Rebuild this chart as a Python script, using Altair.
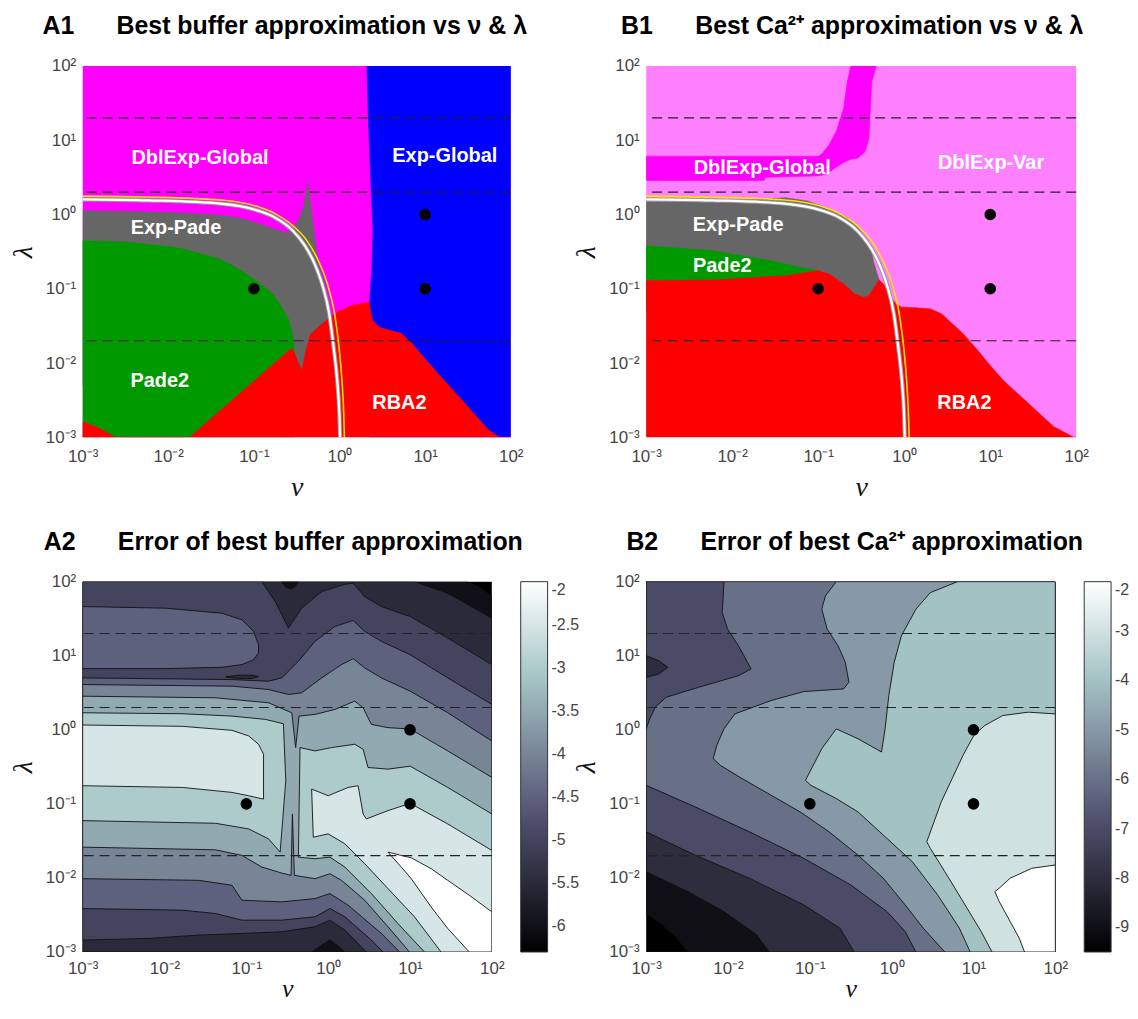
import altair as alt
import pandas as pd

# ---------------------------------------------------------------------------
# Values.  Polygon vertices are (log10 nu, log10 lambda).
# ---------------------------------------------------------------------------
TICK_VALUES = [1e-3, 1e-2, 1e-1, 1, 10, 100]
TICK_LABELS = ["10⁻³", "10⁻²", "10⁻¹", "10⁰", "10¹", "10²"]
DASH_LAMBDA = [20, 2, 0.02]
DOT_NU = [0.1, 10, 10]
DOT_LAMBDA = [0.1, 0.1, 1]

# ---- A1: best buffer approximation (region map) ----
A1_FULL = [(-3, -3), (2, -3), (2, 2), (-3, 2)]
A1_BLUE = [(0.32, 2), (2, 2), (2, -3), (0.35, -3), (0.35, -1.2), (0.38, -0.7),
           (0.39, -0.2), (0.36, 0.6), (0.34, 1.2)]
A1_GRAY = [(-3, 0.05), (-2.5, 0.04), (-2.0, 0.03), (-1.5, 0.0), (-1.2, -0.04),
           (-1.0, -0.1), (-0.85, -0.16), (-0.7, -0.22), (-0.6, -0.25), (-0.54, -0.2),
           (-0.47, -0.05), (-0.42, 0.1), (-0.39, 0.3), (-0.37, 0.43), (-0.35, 0.25),
           (-0.33, 0.05), (-0.3, -0.2), (-0.27, -0.5), (-0.24, -0.7), (-0.18, -0.9),
           (-0.13, -1.15), (-0.1, -1.4), (-0.08, -1.5), (-0.45, -2.3), (-3, -2.3)]
A1_GREEN = [(-3, -0.355), (-2.5, -0.37), (-2.0, -0.43), (-1.8, -0.47), (-1.4, -0.6),
            (-1.2, -0.72), (-1.0, -0.87), (-0.8, -1.05), (-0.7, -1.2), (-0.6, -1.4),
            (-0.55, -1.6), (-0.53, -1.8), (-0.53, -3), (-3, -3)]
A1_RED = [(-3, -2.79), (-2.8, -2.88), (-2.62, -3.0), (-1.75, -3.0), (-0.56, -1.8),
          (-0.53, -1.85), (-0.5, -1.95), (-0.44, -2.1), (-0.4, -1.87), (-0.35, -1.65),
          (-0.33, -1.6), (-0.2, -1.47), (-0.03, -1.32), (0.13, -1.23), (0.345, -1.18),
          (0.37, -1.35), (0.39, -1.43), (0.47, -1.52), (0.72, -1.6), (0.85, -1.74),
          (0.98, -1.92), (1.15, -2.14), (1.36, -2.41), (1.57, -2.68), (1.74, -2.9),
          (1.87, -3.0), (2, -3), (-3, -3)]
A1_LABELS = ["DblExp-Global", "Exp-Global", "Exp-Pade", "Pade2", "RBA2"]
A1_LABEL_U = [-1.63, 1.23, -1.91, -2.10, 0.70]
A1_LABEL_V = [0.76, 0.79, -0.18, -2.24, -2.54]

# ---- B1: best Ca2+ approximation (region map) ----
B1_FULL = [(-3, -3), (2, -3), (2, 2), (-3, 2)]
B1_MAGENTA = [(-3, 0.785), (-1.63, 0.785), (-1.0, 0.785), (-0.957, 0.816), (-0.873, 0.941),
              (-0.789, 1.12), (-0.704, 1.43), (-0.662, 1.79), (-0.62, 2.0), (-0.325, 2.0),
              (-0.376, 1.79), (-0.397, 1.34), (-0.41, 1.03), (-0.452, 0.85), (-0.536, 0.762),
              (-0.62, 0.745), (-0.704, 0.70), (-0.789, 0.64), (-0.873, 0.57), (-0.957, 0.53),
              (-1.0, 0.52), (-1.61, 0.50), (-1.63, 0.458), (-3, 0.458)]
B1_GRAY = [(-3, 0.172), (-2.221, 0.172), (-1.378, 0.226), (-1.125, 0.181), (-0.957, 0.114),
           (-0.789, 0.025), (-0.662, -0.042), (-0.536, -0.176), (-0.452, -0.31),
           (-0.388, -0.444), (-0.359, -0.623), (-0.325, -0.757), (-0.291, -0.882),
           (-0.275, -0.94), (-0.28, -1.3), (-3, -1.3)]
B1_GREEN = [(-3, -0.422), (-2.221, -0.489), (-1.547, -0.623), (-1.21, -0.712),
            (-0.98, -0.757), (-0.98, -1.3), (-3, -1.3)]
B1_RED = [(-3, -0.891), (-2.221, -0.882), (-1.378, -0.824), (-1.0, -0.757), (-0.873, -0.802),
          (-0.789, -0.869), (-0.704, -0.936), (-0.578, -1.07), (-0.473, -1.114),
          (-0.409, -1.092), (-0.346, -0.98), (-0.291, -0.882), (-0.241, -0.936),
          (-0.157, -1.114), (-0.094, -1.204), (-0.030, -1.248), (0.138, -1.257),
          (0.307, -1.271), (0.433, -1.338), (0.559, -1.472), (0.686, -1.606),
          (0.854, -1.829), (0.981, -2.008), (1.149, -2.231), (1.36, -2.455),
          (1.57, -2.678), (1.739, -2.857), (1.971, -3.0), (2, -3), (-3, -3)]
B1_LABELS = ["DblExp-Global", "DblExp-Var", "Exp-Pade", "Pade2", "RBA2"]
B1_LABEL_U = [-1.65, 1.01, -1.93, -2.115, 0.70]
B1_LABEL_V = [0.62, 0.69, -0.145, -0.70, -2.535]

# ---- curves drawn over both top maps ----
CURVE_WHITE = [(-3, 0.204), (-2.23, 0.19), (-1.387, 0.146), (-0.965, 0.056), (-0.753, -0.042),
               (-0.542, -0.221), (-0.416, -0.4), (-0.289, -0.668), (-0.204, -0.936),
               (-0.12, -1.338), (-0.069, -1.785), (-0.027, -2.231), (-0.002, -2.678),
               (0.007, -3.0)]
CURVE_YELLOW = [(-3, 0.248), (-2.23, 0.235), (-1.387, 0.195), (-0.965, 0.11), (-0.753, 0.012),
                (-0.542, -0.154), (-0.394, -0.332), (-0.247, -0.623), (-0.141, -0.936),
                (-0.057, -1.338), (-0.006, -1.785), (0.028, -2.231), (0.049, -2.678),
                (0.057, -3.0)]

# ---- A2: error of best buffer approximation (filled contours, log10 error) ----
A2_CRANGE = [-6.3, -2.0]
A2_TICKS = [-2, -2.5, -3, -3.5, -4, -4.5, -5, -5.5, -6]
A2_FULL = [(-3, -3), (2, -3), (2, 2), (-3, 2)]
A2_S60 = [(-3, -3), (2, -3), (2, 1.80), (1.866, 1.91), (1.704, 2), (-3, 2)]
A2_S55 = [(-3, -3), (2, -3), (2, 1.507), (1.461, 1.843), (1.055, 2), (-3, 2)]
A2_HOLE_BOTTOM = [(-0.202, -3), (-0.080, -2.906), (0.021, -2.839), (0.122, -2.919), (0.204, -3)]
A2_HOLE_TOP = [(-0.567, 2), (-0.526, 1.933), (-0.465, 1.901), (-0.405, 1.933), (-0.364, 2)]
A2_S50 = [(-3, 2), (-0.810, 2.0), (-0.648, 1.731), (-0.486, 1.373), (-0.324, 1.642),
          (-0.080, 1.866), (0.204, 1.964), (0.305, 1.978), (0.447, 1.798), (0.650, 1.664),
          (1.002, 1.530), (1.461, 1.238), (2.0, 0.880), (2, -3), (0.467, -3),
          (0.366, -2.884), (0.204, -2.704), (0.021, -2.570), (-0.161, -2.659),
          (-0.567, -2.727), (-1.054, -2.749), (-1.581, -2.772), (-2.189, -2.816), (-3, -2.839)]
A2_SLIVER = [(-1.256, 0.714), (-1.094, 0.737), (-0.932, 0.737), (-0.851, 0.719),
             (-0.932, 0.692), (-1.094, 0.692)]
A2_S45 = [(-3, 0.701), (-1.175, 0.678), (-0.729, 0.656), (-0.567, 0.701), (-0.364, 0.925),
          (-0.161, 1.194), (0.082, 1.395), (0.305, 1.476), (0.447, 1.328), (0.650, 1.194),
          (1.002, 1.014), (1.461, 0.701), (2.0, 0.342), (2, -3), (0.670, -3.0),
          (0.528, -2.839), (0.204, -2.525), (0.021, -2.413), (-0.161, -2.525),
          (-0.567, -2.570), (-1.054, -2.570), (-1.378, -2.480), (-1.783, -2.435), (-3, -2.413)]
A2_TONGUE = [(-3, 1.664), (-1.986, 1.642), (-1.297, 1.574), (-1.054, 1.485), (-0.912, 1.328),
             (-0.851, 1.149), (-0.851, 1.037), (-0.912, 0.947), (-1.054, 0.880),
             (-1.297, 0.844), (-1.986, 0.826), (-3, 0.826)]
A2_S40 = [(-3, 0.611), (-1.175, 0.589), (-0.729, 0.544), (-0.486, 0.477), (-0.324, 0.499),
          (-0.080, 0.701), (0.163, 0.880), (0.305, 0.961), (0.447, 0.835), (0.650, 0.701),
          (1.002, 0.522), (1.461, 0.230), (2.0, -0.151), (2, -3), (0.873, -3.0),
          (0.650, -2.749), (0.244, -2.368), (0.021, -2.211), (-0.161, -2.279),
          (-0.567, -2.323), (-1.054, -2.301), (-1.175, -2.099), (-1.581, -2.032), (-3, -2.010)]
A2_S35 = [(-3, 0.454), (-1.378, 0.432), (-0.729, 0.365), (-0.445, 0.230), (-0.397, -0.240),
          (-0.356, 0.185), (-0.161, 0.208), (0.082, 0.275), (0.325, 0.387), (0.427, 0.297),
          (0.528, 0.073), (0.731, 0.029), (1.002, 0.011), (1.461, -0.285), (2.0, -0.643),
          (2, -3), (0.994, -3.0), (0.731, -2.659), (0.447, -2.301), (0.163, -2.032),
          (0.021, -1.943), (-0.161, -2.010), (-0.413, -1.965), (-0.437, -1.136),
          (-0.453, -1.965), (-0.567, -1.934), (-0.810, -1.853), (-1.054, -1.696),
          (-1.378, -1.620), (-3, -1.584)]
A2_S30_LEFT = [(-3, 0.230), (-1.783, 0.217), (-1.175, 0.185), (-0.770, 0.141), (-0.547, 0.082),
               (-0.518, -0.688), (-0.587, -1.651), (-0.729, -1.472), (-0.972, -1.338),
               (-1.378, -1.262), (-3, -1.226)]
A2_S30_RIGHT = [(-0.344, -0.240), (-0.161, -0.285), (0.041, -0.240), (0.325, -0.195),
                (0.427, -0.263), (0.487, -0.509), (0.731, -0.531), (1.002, -0.491),
                (1.461, -0.778), (2.0, -1.136), (2, -3), (1.177, -3.0), (0.852, -2.615),
                (0.528, -2.211), (0.204, -1.853), (0.021, -1.719), (-0.161, -1.741),
                (-0.364, -1.719)]
A2_S25_LEFT = [(-3, 0.065), (-1.783, 0.047), (-1.175, -0.007), (-0.972, -0.083),
               (-0.851, -0.195), (-0.790, -0.330), (-0.790, -0.935), (-0.851, -0.921),
               (-0.972, -0.890), (-1.175, -0.845), (-1.783, -0.778), (-3, -0.755)]
A2_S25_RIGHT = [(-0.202, -0.800), (0.0, -0.890), (0.244, -0.778), (0.366, -0.755),
                (0.427, -1.136), (0.467, -1.203), (0.731, -1.091), (1.002, -0.993),
                (1.461, -1.271), (2.0, -1.629), (2, -3), (1.380, -3.0), (1.055, -2.525),
                (0.731, -2.144), (0.447, -1.808), (0.204, -1.539), (0.0, -1.405),
                (-0.182, -1.450)]
A2_S20 = [(0.731, -1.651), (0.893, -1.696), (1.015, -1.728), (1.258, -1.875), (1.461, -2.032),
          (1.724, -2.234), (2, -2.458), (2, -3), (1.724, -3), (1.461, -2.682),
          (1.258, -2.391), (1.015, -2.010), (0.893, -1.853)]

# ---- B2: error of best Ca2+ approximation (filled contours, log10 error) ----
B2_CRANGE = [-9.5, -2.0]
B2_TICKS = [-2, -3, -4, -5, -6, -7, -8, -9]
B2_FULL = [(-3, -3), (2, -3), (2, 2), (-3, 2)]
B2_S90 = [(-3, 2), (2, 2), (2, -3), (-2.491, -3), (-2.624, -2.812), (-2.801, -2.632), (-3, -2.475)]
B2_S80 = [(-3, 2), (2, 2), (2, -3), (-1.496, -3), (-1.650, -2.767), (-2.049, -2.453),
          (-2.491, -2.184), (-3, -1.915)]
B2_S70 = [(-3, 2), (2, 2), (2, -3), (-0.456, -3), (-0.633, -2.677), (-1.075, -2.363),
          (-1.739, -2.004), (-2.403, -1.691), (-3, -1.377)]
B2_S60 = [(-3, 2), (2, 2), (2, -3), (0.296, -3), (0.164, -2.722), (-0.058, -2.453),
          (-0.5, -2.094), (-1.075, -1.735), (-1.739, -1.377), (-2.403, -1.040), (-3, -0.749)]
B2_HOLE_TOPLEFT = [(-3, 2), (-2.049, 2), (-2.058, 1.807), (-2.071, 1.583), (-2.004, 1.359),
                   (-1.872, 1.135), (-1.717, 0.821), (-1.872, 0.731), (-2.358, 0.574),
                   (-2.757, 0.439), (-2.889, 0.305), (-2.956, 0.148), (-3, 0.013)]
B2_NOTCH = [(-3, 1.0), (-2.845, 0.933), (-2.735, 0.843), (-2.845, 0.753), (-3, 0.709)]
B2_S50 = [(-0.677, 2), (2, 2), (2, -3), (0.650, -3), (0.385, -2.677), (0.164, -2.363),
          (-0.102, -2.004), (-0.412, -1.691), (-0.765, -1.377), (-1.119, -1.108),
          (-1.473, -0.883), (-1.827, -0.659), (-2.093, -0.480), (-2.181, -0.390),
          (-2.137, -0.211), (-2.049, 0.013), (-1.916, 0.215), (-1.473, 0.395),
          (-1.075, 0.516), (-0.588, 0.552), (-0.522, 0.641), (-0.566, 0.910),
          (-0.655, 1.135), (-0.788, 1.359), (-0.854, 1.628), (-0.810, 1.807)]
B2_S40 = [(0.805, 2), (2, 2), (2, -3), (0.960, -3), (0.827, -2.677), (0.562, -2.229),
          (0.252, -1.780), (-0.058, -1.466), (-0.412, -1.108), (-0.677, -0.928),
          (-0.987, -0.749), (-1.053, -0.682), (-0.854, -0.256), (-0.677, 0.013),
          (-0.412, -0.121), (-0.124, -0.300), (-0.080, 0.013), (-0.035, 0.462),
          (0.031, 0.910), (0.119, 1.269), (0.296, 1.628), (0.473, 1.852)]
B2_S30 = [(2, 0.215), (1.668, 0.238), (1.358, 0.193), (1.137, 0.058), (1.004, -0.076),
          (0.872, -0.345), (0.739, -0.659), (0.606, -0.973), (0.518, -1.242),
          (0.429, -1.511), (0.473, -1.601), (0.650, -1.915), (0.872, -2.318),
          (1.093, -2.722), (1.226, -3), (2, -3)]
B2_S20 = [(2, -1.825), (1.712, -1.870), (1.447, -2.004), (1.314, -2.139), (1.261, -2.184),
          (1.314, -2.318), (1.447, -2.587), (1.558, -2.812), (1.624, -3), (2, -3)]

# ---------------------------------------------------------------------------
# Styling
# ---------------------------------------------------------------------------
FONT = "Liberation Sans"
SERIF = "Liberation Serif"
COL_MAGENTA, COL_BLUE, COL_RED = "#ff00ff", "#0000ff", "#ff0000"
COL_GREEN, COL_GRAY, COL_PINK = "#009900", "#666666", "#ff80ff"
BONE_T = [0, 0.375, 0.75, 1]
BONE_HEX = ["#000000", "#545474", "#a7c7c7", "#ffffff"]

LABEL_EXPR = "[" + ",".join("'" + s + "'" for s in TICK_LABELS) + "][round(log(datum.value)/LN10)+3]"

XSCALE = alt.Scale(type="log", domain=[1e-3, 1e2], nice=False)
YSCALE = alt.Scale(type="log", domain=[1e-3, 1e2], nice=False)


def x_axis(label_pad, title_pad, title_size):
    return alt.Axis(values=TICK_VALUES, labelExpr=LABEL_EXPR, title="ν", titleFont=SERIF,
                    titleFontStyle="italic", titleFontWeight="normal", titleFontSize=title_size,
                    titleColor="#111", labelFont=FONT, labelFontSize=17, labelColor="#454545",
                    ticks=False, domain=False, grid=False, labelPadding=label_pad,
                    titlePadding=title_pad, labelFlush=False, labelOverlap=False)


AX_Y = alt.Axis(values=TICK_VALUES, labelExpr=LABEL_EXPR, title="λ", titleFont=SERIF,
                titleFontStyle="italic", titleFontWeight="normal", titleFontSize=28,
                titleColor="#111", labelFont=FONT, labelFontSize=17, labelColor="#454545",
                ticks=False, domain=False, grid=False, labelPadding=7, titlePadding=8,
                labelFlush=False, labelOverlap=False)
X_TOP = alt.X("nu:Q", scale=XSCALE, axis=x_axis(11, 9, 28))
X_BOT = alt.X("nu:Q", scale=XSCALE, axis=x_axis(9, -1, 26))
Y = alt.Y("lam:Q", scale=YSCALE, axis=AX_Y)


def poly_frame(pts, val=0.0):
    return pd.DataFrame({
        "nu": [10 ** u for u, _ in pts],
        "lam": [10 ** v for _, v in pts],
        "k": list(range(len(pts))),
        "val": [val] * len(pts),
    })


def region_layer(pts, color, X):
    return alt.Chart(poly_frame(pts)).mark_line(
        interpolate="linear-closed", fill=color, stroke=color, strokeWidth=0.6, clip=True
    ).encode(x=X, y=Y, order="k:Q")


def bone_scale(crange):
    lo, hi = crange
    return alt.Scale(domain=[lo + t * (hi - lo) for t in BONE_T], range=BONE_HEX,
                     interpolate="rgb", clamp=True)


def contour_layer(pts, val, scale, legend, X):
    return alt.Chart(poly_frame(pts, val)).mark_line(
        interpolate="linear-closed", stroke="#111111", strokeWidth=0.9, clip=True
    ).encode(x=X, y=Y, order="k:Q", fill=alt.Fill("val:Q", scale=scale, legend=legend))


def curve_layer(pts, color, width, X):
    return alt.Chart(poly_frame(pts)).mark_line(
        color=color, strokeWidth=width, interpolate="monotone", clip=True
    ).encode(x=X, y=Y, order="k:Q")


def overlay_layers(X):
    dash = alt.Chart(pd.DataFrame({"lam": DASH_LAMBDA})).mark_rule(
        color="#222222", strokeDash=[10, 6], strokeWidth=1.1
    ).encode(y=Y)
    dots = alt.Chart(pd.DataFrame({"nu": DOT_NU, "lam": DOT_LAMBDA})).mark_circle(
        size=135, color="black", opacity=1
    ).encode(x=X, y=Y)
    return dash, dots


def label_layer(texts, us, vs, X):
    df = pd.DataFrame({"t": texts, "nu": [10 ** u for u in us], "lam": [10 ** v for v in vs]})
    return alt.Chart(df).mark_text(font=FONT, fontSize=20, fontWeight="bold", color="white").encode(
        x=X, y=Y, text="t:N")


def title(text, dx):
    return alt.TitleParams(text=text, font=FONT, fontSize=25, fontWeight="bold", color="black",
                           anchor="middle", frame="group", dx=dx, offset=18)


def legend(values):
    return alt.Legend(title=None, orient="right", offset=29, direction="vertical",
                      gradientLength=372, gradientThickness=27, values=values,
                      labelFont=FONT, labelFontSize=16, labelColor="#454545", labelOffset=4,
                      gradientStrokeColor="#333333", gradientStrokeWidth=1,
                      labelExpr="replace(format(datum.value, '~g'), '\u2212', '-')")


GAP = "\u2003\u2002\u2009"

# ---------------------------------------------------------------------------
# Panels
# ---------------------------------------------------------------------------
dash_t, dots_t = overlay_layers(X_TOP)
dash_b, dots_b = overlay_layers(X_BOT)

a1 = alt.layer(
    region_layer(A1_FULL, COL_MAGENTA, X_TOP),
    region_layer(A1_BLUE, COL_BLUE, X_TOP),
    region_layer(A1_GRAY, COL_GRAY, X_TOP),
    region_layer(A1_GREEN, COL_GREEN, X_TOP),
    region_layer(A1_RED, COL_RED, X_TOP),
    curve_layer(CURVE_WHITE, "#9a9a9a", 4.2, X_TOP),
    curve_layer(CURVE_WHITE, "white", 2.2, X_TOP),
    curve_layer(CURVE_YELLOW, "#ffe100", 1.6, X_TOP),
    dash_t, dots_t,
    label_layer(A1_LABELS, A1_LABEL_U, A1_LABEL_V, X_TOP),
).properties(width=430, height=373,
             title=title("A1" + GAP + "Best buffer approximation vs ν & λ", -12))

b1 = alt.layer(
    region_layer(B1_FULL, COL_PINK, X_TOP),
    region_layer(B1_MAGENTA, COL_MAGENTA, X_TOP),
    region_layer(B1_GRAY, COL_GRAY, X_TOP),
    region_layer(B1_GREEN, COL_GREEN, X_TOP),
    region_layer(B1_RED, COL_RED, X_TOP),
    curve_layer(CURVE_WHITE, "#9a9a9a", 4.2, X_TOP),
    curve_layer(CURVE_WHITE, "white", 2.2, X_TOP),
    curve_layer(CURVE_YELLOW, "#ffe100", 1.6, X_TOP),
    dash_t, dots_t,
    label_layer(B1_LABELS, B1_LABEL_U, B1_LABEL_V, X_TOP),
).properties(width=432, height=373,
             title=title("B1" + GAP + "Best Ca²⁺ approximation vs ν & λ", -9))

sa = bone_scale(A2_CRANGE)
la = legend(A2_TICKS)
a2_polys = [
    (A2_FULL, A2_CRANGE[0]), (A2_S60, -6), (A2_S55, -5.5), (A2_HOLE_BOTTOM, -6),
    (A2_HOLE_TOP, -6), (A2_S50, -5), (A2_SLIVER, -5.5), (A2_S45, -4.5), (A2_TONGUE, -4.5),
    (A2_S40, -4), (A2_S35, -3.5), (A2_S30_LEFT, -3), (A2_S30_RIGHT, -3),
    (A2_S25_LEFT, -2.5), (A2_S25_RIGHT, -2.5), (A2_S20, -2),
]
a2 = alt.layer(
    *[contour_layer(p, v, sa, la, X_BOT) for p, v in a2_polys], dash_b, dots_b
).properties(width=411, height=372,
             title=title("A2" + GAP + "Error of best buffer approximation", -4))

sb = bone_scale(B2_CRANGE)
lb = legend(B2_TICKS)
b2_polys = [
    (B2_FULL, B2_CRANGE[0]), (B2_S90, -9), (B2_S80, -8), (B2_S70, -7), (B2_S60, -6),
    (B2_HOLE_TOPLEFT, -7), (B2_NOTCH, -8), (B2_S50, -5), (B2_S40, -4), (B2_S30, -3),
    (B2_S20, -2),
]
b2 = alt.layer(
    *[contour_layer(p, v, sb, lb, X_BOT) for p, v in b2_polys], dash_b, dots_b
).properties(width=411, height=372,
             title=title("B2" + GAP + "Error of best Ca²⁺ approximation", 4))

chart = alt.concat(
    a1, b1, a2, b2, columns=2, spacing={"row": 145, "column": 136}, bounds="flush"
).resolve_scale(fill="independent").resolve_legend(fill="independent").configure(
    background="white", padding={"left": 1, "top": 4, "right": 0, "bottom": 0}
).configure_view(stroke=None).configure_legend(gradientVerticalMaxLength=400)

chart.save("out.html", embed_options={"renderer": "svg", "actions": False})
